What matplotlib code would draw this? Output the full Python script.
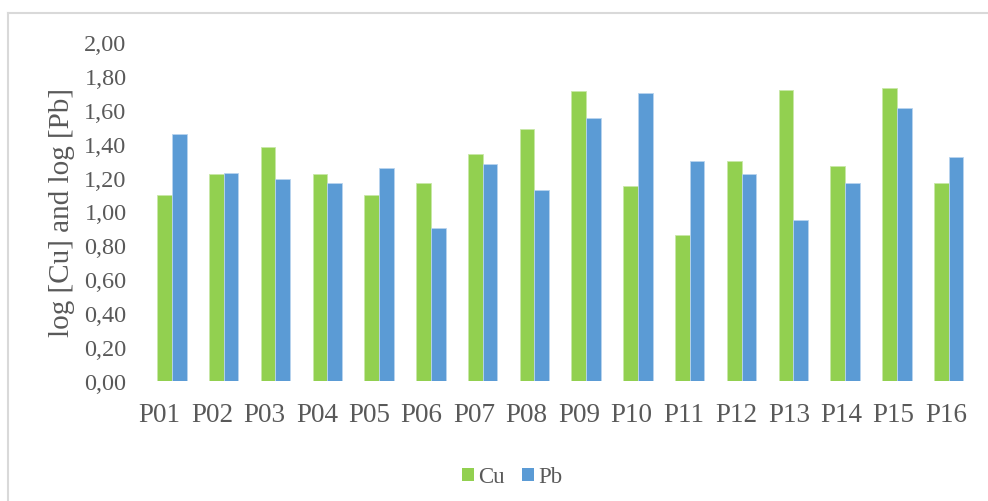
import matplotlib
matplotlib.use("Agg")
import matplotlib.pyplot as plt
import numpy as np
from matplotlib.lines import Line2D
from matplotlib.patches import Patch

sites = ["P01", "P02", "P03", "P04", "P05", "P06", "P07", "P08",
         "P09", "P10", "P11", "P12", "P13", "P14", "P15", "P16"]
cu = [1.10, 1.22, 1.38, 1.22, 1.10, 1.17, 1.34, 1.49,
      1.71, 1.15, 0.86, 1.30, 1.72, 1.27, 1.73, 1.17]
pb = [1.46, 1.23, 1.19, 1.17, 1.26, 0.90, 1.28, 1.13,
      1.55, 1.70, 1.30, 1.22, 0.95, 1.17, 1.61, 1.32]
y_ticks = [0.0, 0.2, 0.4, 0.6, 0.8, 1.0, 1.2, 1.4, 1.6, 1.8, 2.0]

GREEN = "#92D050"
BLUE = "#5B9BD5"
TEXT = "#595959"
FONT = "Liberation Serif"

plt.rcParams["font.family"] = [FONT, "DejaVu Serif"]

W, H = 988, 502
fig = plt.figure(figsize=(W / 100, H / 100), dpi=100)
ax = fig.add_axes([146 / W, 1 - 381.7 / H, (974.6 - 146) / W, (381.7 - 43.3) / H])

x = np.arange(len(sites))
bw = 0.284
ax.bar(x - bw / 2, cu, width=bw, color=GREEN, edgecolor="#c8e8a8", linewidth=0.6, label="Cu")
ax.bar(x + bw / 2, pb, width=bw, color=BLUE, edgecolor="#b8d4ee", linewidth=0.6, label="Pb")

ax.set_xlim(-0.5, len(sites) - 0.5)
ax.set_ylim(0, 2.0)
ax.set_yticks(y_ticks)
ax.set_yticklabels([f"{v:.2f}".replace(".", ",") for v in y_ticks])
ax.set_xticks([])
ax.tick_params(axis="y", length=0, pad=14, labelsize=17.5, labelcolor=TEXT)
for s in ax.spines.values():
    s.set_visible(False)

# category labels sit on their own slightly wider scale
lab = ax.twiny()
lab.set_xlim(-0.259, 15.543)
lab.xaxis.set_ticks_position("bottom")
lab.set_xticks(x)
lab.set_xticklabels(sites)
lab.tick_params(axis="x", length=0, pad=15, labelsize=19.5, labelcolor=TEXT)
for s in lab.spines.values():
    s.set_visible(False)

fig.text(62 / W, 1 - 212.5 / H, "log [Cu] and log [Pb]", rotation=90,
         ha="center", va="center", fontsize=21, color=TEXT)

handles = [Patch(facecolor=GREEN, edgecolor="none", label="Cu"),
           Patch(facecolor=BLUE, edgecolor="none", label="Pb")]
fig.legend(handles=handles, loc="center", bbox_to_anchor=(512.5 / W, 1 - 478 / H),
           ncol=2, frameon=False, fontsize=16.5, labelcolor=TEXT,
           handlelength=0.5, handleheight=0.5, handletextpad=0.2,
           columnspacing=0.75)

# chart-area frame
fig.add_artist(Line2D([8 / W, 1.0], [1 - 14 / H, 1 - 14 / H], transform=fig.transFigure,
                      color="#d9d9d9", linewidth=1.5))
fig.add_artist(Line2D([8 / W, 8 / W], [0.0, 1 - 14 / H], transform=fig.transFigure,
                      color="#d9d9d9", linewidth=1.5))

fig.savefig("out.png", dpi=100, facecolor="white")
